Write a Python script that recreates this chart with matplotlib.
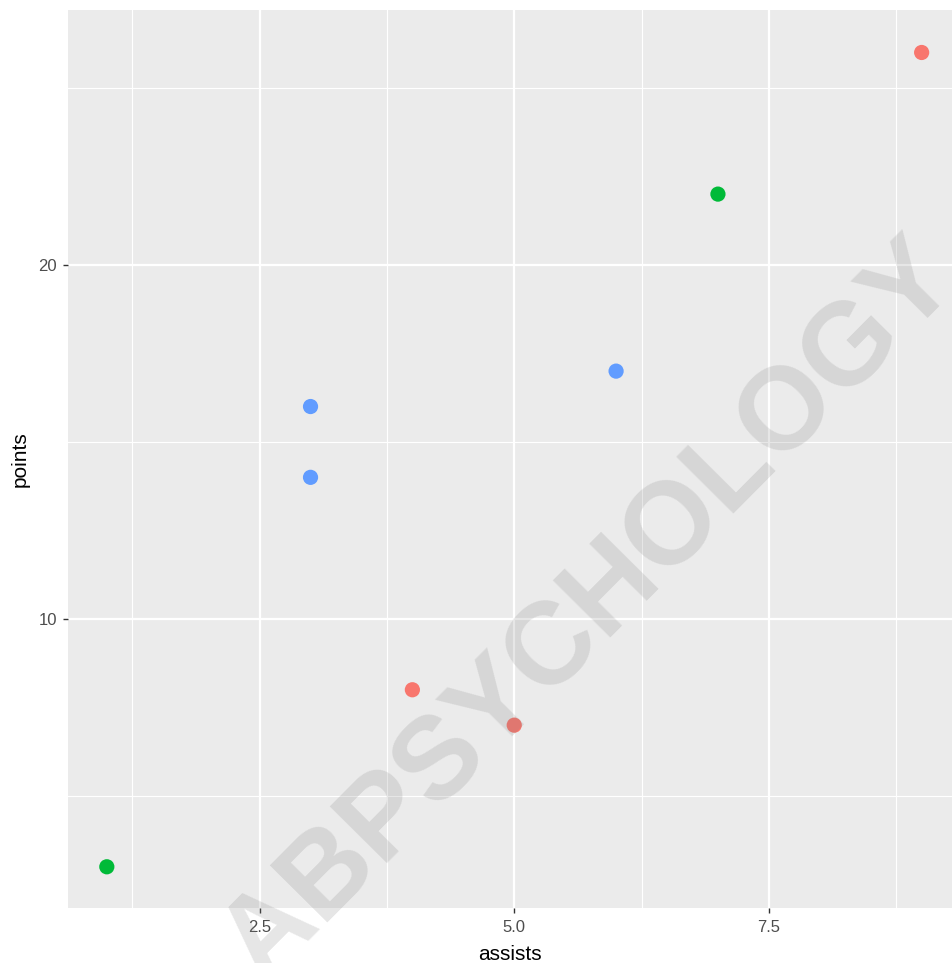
import matplotlib
matplotlib.use("Agg")
import matplotlib.pyplot as plt

# data
assists = [1, 3, 3, 6, 4, 5, 9, 7]
points = [3, 14, 16, 17, 8, 7, 26, 22]
groups = ["B", "C", "C", "C", "A", "A", "A", "B"]
group_colors = {"A": "#F8766D", "B": "#00BA38", "C": "#619CFF"}
xticks = [2.5, 5.0, 7.5]
xtick_labels = ["2.5", "5.0", "7.5"]
yticks = [10, 20]
ytick_labels = ["10", "20"]

plt.rcParams['font.family'] = ['Liberation Sans', 'DejaVu Sans']

W, H = 952, 963
fig = plt.figure(figsize=(W / 100, H / 100), dpi=100)
left, right, top, bottom = 67.5, 952, 10, 908
ax = fig.add_axes([left / W, 1 - bottom / H, (right - left) / W, (bottom - top) / H])
ax.set_facecolor("#EBEBEB")
for s in ax.spines.values():
    s.set_visible(False)

ax.set_xlim(0.614, 9.298)
ax.set_ylim(1.836, 27.2)

ax.set_xticks(xticks)
ax.set_xticklabels(xtick_labels)
ax.set_yticks(yticks)
ax.set_yticklabels(ytick_labels)
ax.set_xticks([1.25, 3.75, 6.25, 8.75], minor=True)
ax.set_yticks([5, 15, 25], minor=True)
ax.grid(True, which="major", color="white", linewidth=1.6)
ax.grid(True, which="minor", color="white", linewidth=0.8)
ax.set_axisbelow(True)
ax.tick_params(which="major", length=3.5, width=1, color="#333333",
               labelcolor="#4D4D4D", labelsize=12)
ax.tick_params(axis="x", which="major", pad=5)
ax.tick_params(axis="y", which="major", pad=4)
ax.tick_params(which="minor", length=0)

cols = [group_colors[g] for g in groups]
ax.scatter(assists, points, c=cols, s=120, linewidths=0, zorder=3)

ax.set_xlabel("assists", fontsize=15, color="black", labelpad=7)
ax.set_ylabel("points", fontsize=15, color="black", labelpad=6)

fig.text(590 / W, 1 - 612 / H, "ABPSYCHOLOGY", rotation=45.2,
         rotation_mode="anchor", ha="center", va="center",
         fontsize=84, fontweight="bold", color="#808080", alpha=0.2,
         family="Liberation Sans", zorder=10)

fig.savefig("out.png", dpi=100)
